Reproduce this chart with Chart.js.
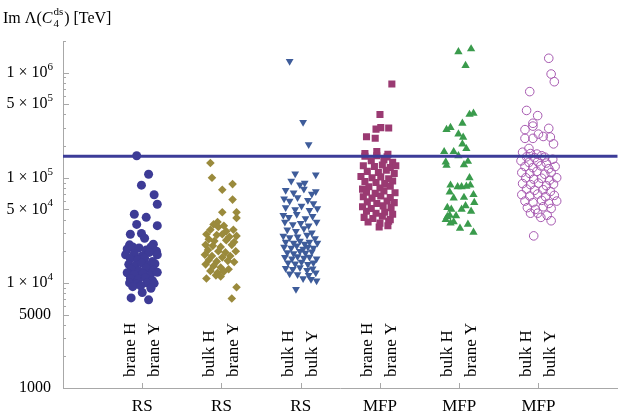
<!DOCTYPE html>
<html><head><meta charset="utf-8">
<script src="https://cdn.jsdelivr.net/npm/chart.js@4"></script>
<style>html,body{margin:0;padding:0;background:#fff}canvas{display:block}</style>
</head><body>
<canvas id="c" width="623" height="415"></canvas>
<script>
// model names under each column, and the two rotated labels per column
const modelNames = ['RS','RS','RS','MFP','MFP','MFP'];
const higgsLabels = ['brane H','bulk H','bulk H','brane H','bulk H','bulk H'];
const yukawaLabels = ['brane Y','brane Y','bulk Y','brane Y','brane Y','bulk Y'];
const yLabelTicks = [1000, 5000, 1e4, 5e4, 1e5, 5e5, 1e6];
const epsBound = 1.6e5;

// RS brane H / brane Y
const rsBraneX = [0.93,1.08,0.99,1.15,1.19,0.9,1.05,0.93,1.19,0.85,0.99,1.03,0.84,1.14,
  0.81,0.88,0.96,1.05,1.11,1.18, 0.79,0.9,1.0,1.09,1.19, 0.85,0.94,1.03,1.13, 0.83,0.91,0.99,1.08,1.16,
  0.86,0.96,1.05,1.14, 0.81,0.9,1.01,1.1,1.19, 0.85,0.95,1.04,1.13, 0.84,0.93,1.06,1.15, 0.88,0.98,1.11,1.0, 0.86,1.08];
const rsBraneV = [1.62e5,1.08e5,8.5e4,6.9e4,5.6e4,4.5e4,4.2e4,3.6e4,3.5e4,2.9e4,2.95e4,2.66e4,2.3e4,2.33e4,
  2.1e4,2.2e4,2.15e4,2.05e4,2.2e4,2.0e4, 1.85e4,1.9e4,1.8e4,1.95e4,1.85e4, 1.7e4,1.65e4,1.72e4,1.6e4, 1.5e4,1.45e4,1.55e4,1.48e4,1.52e4,
  1.35e4,1.3e4,1.38e4,1.32e4, 1.25e4,1.2e4,1.22e4,1.18e4,1.26e4, 1.1e4,1.08e4,1.12e4,1.05e4, 1.0e4,9.8e3,1.0e4,9.9e3, 9.2e3,9.4e3,8.9e3,8.1e3, 7.2e3,6.9e3];

// RS bulk H / brane Y
const rsBulkBraneX = [1.86,1.88,2.14,2.01,2.14,2.01,2.19,2.19,1.95,
  1.9,1.96,2.03,1.86,2.06,2.15, 1.81,1.94,2.01,2.1,2.19, 1.84,1.91,2.06,2.16, 1.8,1.89,1.99,2.13,
  1.83,1.96,2.05,2.18, 1.79,1.88,2.01,2.11, 1.84,1.94,2.08,2.16, 1.8,1.9,1.99,2.09, 1.86,1.95,2.03, 1.93,1.99,1.81, 2.19,2.13];
const rsBulkBraneV = [1.38e5,1.0e5,8.7e4,7.7e4,6.2e4,4.7e4,4.7e4,4.15e4,3.8e4,
  3.6e4,3.4e4,3.5e4,3.2e4,3.1e4,3.2e4, 2.9e4,2.85e4,2.9e4,2.75e4,2.8e4, 2.6e4,2.5e4,2.55e4,2.45e4, 2.3e4,2.25e4,2.2e4,2.3e4,
  2.05e4,2.0e4,1.95e4,2.0e4, 1.85e4,1.8e4,1.75e4,1.8e4, 1.65e4,1.6e4,1.62e4,1.58e4, 1.5e4,1.45e4,1.4e4,1.35e4, 1.3e4,1.25e4,1.28e4, 1.18e4,1.15e4,1.1e4, 9.1e3,7.1e3];

// RS bulk H / bulk Y
const rsBulkX = [2.86,3.03,3.1,2.93,3.19,
  2.88,2.99,3.05,2.81,2.91,3.04,3.14,3.19, 2.79,2.86,2.96,3.09,3.16, 2.81,2.93,3.01,3.11,3.21, 2.78,2.85,2.95,3.06,3.15,
  2.8,2.9,3.0,3.1,3.2, 2.83,2.94,3.04,3.14, 2.78,2.86,2.96,3.08,3.18, 2.81,2.91,2.99,3.05,3.11,3.21, 2.79,2.88,2.95,3.03,3.09,3.16,
  2.83,2.91,2.99,3.06,3.14, 2.8,2.89,2.96,3.04,3.11,3.2, 2.84,2.93,3.01,3.09,3.16, 2.81,2.9,2.99,3.08,3.15, 2.86,2.96,3.1,3.19, 3.03,3.13,3.2,2.94];
const rsBulkV = [1.28e6,3.37e5,2.07e5,1.09e5,1.07e5,
  9.3e4,8.6e4,8.9e4,7.6e4,7.2e4,7.8e4,7.0e4,7.4e4, 6.3e4,6.0e4,6.5e4,6.1e4,5.7e4, 5.2e4,5.0e4,5.4e4,4.9e4,5.1e4, 4.4e4,4.2e4,4.5e4,4.1e4,4.3e4,
  3.8e4,3.6e4,3.7e4,3.5e4,3.8e4, 3.2e4,3.1e4,3.3e4,3.0e4, 2.8e4,2.7e4,2.75e4,2.85e4,2.65e4, 2.45e4,2.4e4,2.5e4,2.35e4,2.45e4,2.4e4, 2.2e4,2.15e4,2.25e4,2.1e4,2.2e4,2.15e4,
  1.95e4,1.9e4,2.0e4,1.92e4,1.98e4, 1.75e4,1.7e4,1.78e4,1.72e4,1.76e4,1.7e4, 1.55e4,1.52e4,1.58e4,1.5e4,1.55e4, 1.38e4,1.35e4,1.4e4,1.32e4,1.36e4, 1.22e4,1.2e4,1.18e4,1.25e4, 1.1e4,1.08e4,1.05e4,8.7e3];

// MFP brane H / brane Y
const mfpBraneX = [4.15,4.0,3.95,4.01,4.11,3.83,3.94,3.81,3.96,4.1,
  3.81,3.96,4.09,3.89,4.05,4.16, 3.79,3.93,4.03,4.13,4.2, 3.84,3.98,4.08,4.18, 3.76,3.9,4.01,4.11, 3.81,3.95,4.06,4.16,
  3.86,4.0,4.13,3.78, 3.83,3.94,4.05,4.19, 3.79,3.9,4.01,4.13, 3.84,3.96,4.09,4.18, 3.78,3.89,4.04,4.14, 3.83,3.95,4.06,4.16,
  3.8,3.91,4.03,4.13, 3.85,4.0,4.11, 3.99,4.1];
const mfpBraneV = [7.8e5,4.0e5,2.9e5,3.0e5,2.97e5,2.46e5,2.38e5,1.7e5,1.78e5,1.67e5,
  1.6e5,1.62e5,1.58e5,1.45e5,1.48e5,1.4e5, 1.3e5,1.28e5,1.32e5,1.25e5,1.3e5, 1.15e5,1.12e5,1.18e5,1.1e5, 1.03e5,1.0e5,1.02e5,9.8e4, 9.2e4,9.0e4,8.8e4,9.3e4,
  8.2e4,8.0e4,8.3e4,7.8e4, 7.3e4,7.1e4,7.5e4,7.2e4, 6.6e4,6.4e4,6.7e4,6.5e4, 5.9e4,5.7e4,6.0e4,5.8e4, 5.3e4,5.1e4,5.4e4,5.2e4, 4.8e4,4.6e4,4.7e4,4.5e4,
  4.2e4,4.1e4,4.3e4,4.0e4, 3.8e4,3.7e4,3.85e4, 3.4e4,3.5e4];

// MFP bulk H / brane Y
const mfpBulkBraneX = [4.99,5.15,5.08,5.13,5.18,4.84,4.89,5.04,4.99,5.05,5.04,5.09,4.81,4.93,4.99,4.83,4.84,5.06,5.11,
  5.13,4.89,4.98,5.03,5.09,5.14,4.88,4.93,5.18,5.06,5.19,5.08,4.85,5.03,4.9,4.88,4.85,4.96,4.89,5.01,5.11,5.18,4.93,4.83,5.15];
const mfpBulkBraneV = [1.58e6,1.68e6,1.17e6,4.0e5,4.1e5,2.87e5,3.0e5,3.3e5,2.6e5,2.42e5,2.09e5,1.89e5,1.77e5,1.77e5,1.62e5,1.41e5,1.31e5,1.33e5,1.43e5,
  1.0e5,8.5e4,8.2e4,8.2e4,8.3e4,8.5e4,7.3e4,6.4e4,6.9e4,6.5e4,5.8e4,5.4e4,5.2e4,5.0e4,5.0e4,4.4e4,4.27e4,4.35e4,3.7e4,3.3e4,3.6e4,3.03e4,3.8e4,4.0e4,4.8e4];

// MFP bulk H / bulk Y
const mfpBulkX = [6.13,6.16,6.2,5.89,5.85,5.99,5.93,5.93,6.13,5.83,6.0,6.06,6.15,5.83,5.93,6.19,5.88,
  5.8,5.9,5.98,6.04,5.85,5.95,6.08, 5.78,5.88,5.99,6.1,6.18, 5.83,5.93,6.03,6.13,6.21, 5.79,5.89,5.98,6.08,6.16,
  5.84,5.94,6.04,6.14,6.23, 5.8,5.9,6.0,6.1,6.19, 5.85,5.95,6.06,6.15, 5.79,5.89,5.99,6.09,6.2, 5.83,5.93,6.04,6.13,6.23,
  5.86,5.96,6.06,6.16, 5.9,5.99,6.16,6.03,6.11,5.94];
const mfpBulkV = [1.37e6,9.7e5,8.2e5,6.6e5,4.37e5,3.9e5,3.3e5,3.1e5,2.95e5,2.87e5,2.6e5,2.47e5,2.44e5,2.37e5,2.37e5,2.1e5,1.9e5,
  1.75e5,1.7e5,1.68e5,1.62e5,1.58e5,1.55e5,1.57e5, 1.45e5,1.4e5,1.42e5,1.38e5,1.5e5, 1.28e5,1.25e5,1.3e5,1.22e5,1.28e5, 1.12e5,1.1e5,1.15e5,1.08e5,1.12e5,
  1.0e5,9.7e4,9.9e4,9.5e4,1.0e5, 8.8e4,8.6e4,8.9e4,8.4e4,8.7e4, 7.8e4,7.6e4,7.7e4,7.4e4, 6.9e4,6.7e4,7.0e4,6.6e4,6.8e4, 6.0e4,5.8e4,6.1e4,5.7e4,6.0e4,
  5.2e4,5.0e4,5.3e4,5.1e4, 4.6e4,4.6e4,3.9e4,4.2e4,4.4e4,2.8e4];

const pts = (xs, vs) => xs.map((x,i)=>({x, y:vs[i]}));
const AXIS = '#a8a8a8';
const SERIF = '"Liberation Serif","DejaVu Serif",serif';

const axisDecor = {
  id:'axisDecor',
  afterDraw(chart){
    const {ctx, chartArea:a, scales:{x,y}} = chart;
    ctx.save();
    ctx.strokeStyle = AXIS; ctx.lineWidth = 1;
    // inward y ticks
    for (let d=1000; d<=1e6; d*=10){
      for (let m=1; m<=9; m++){
        const v=m*d; if (v>y.max) break;
        const py=Math.round(y.getPixelForValue(v))+0.5, len=(m===1||m===5)?6:3;
        ctx.beginPath(); ctx.moveTo(a.left, py); ctx.lineTo(a.left+len, py); ctx.stroke();
      }
    }
    // inward x ticks
    modelNames.forEach((_,i)=>{
      const px=Math.round(x.getPixelForValue(i+1))+0.5;
      ctx.beginPath(); ctx.moveTo(px, a.bottom); ctx.lineTo(px, a.bottom-5); ctx.stroke();
    });
    ctx.fillStyle='#000';
    // y labels with powers of ten
    ctx.textBaseline='middle';
    yLabelTicks.forEach(v=>{
      const py=y.getPixelForValue(v), right=53;
      if (v<1e4){
        ctx.font='16px '+SERIF; ctx.textAlign='right';
        ctx.fillText(String(v), right-2, py);
      } else {
        const e=Math.floor(Math.log10(v)+1e-9), m=Math.round(v/Math.pow(10,e));
        ctx.font='11px '+SERIF; ctx.textAlign='right';
        const ew=ctx.measureText(String(e)).width;
        ctx.fillText(String(e), right, py-6);
        ctx.font='16px '+SERIF;
        ctx.fillText(m+' \u00d7 10', right-ew, py);
      }
    });
    // rotated labels inside the plot
    ctx.font='17px '+SERIF; ctx.textAlign='left'; ctx.textBaseline='middle';
    modelNames.forEach((_,i)=>{
      const px=x.getPixelForValue(i+1);
      [[higgsLabels[i],-12],[yukawaLabels[i],12]].forEach(([t,dx])=>{
        ctx.save(); ctx.translate(px+dx, 377); ctx.rotate(-Math.PI/2);
        ctx.fillText(t, 0, 0); ctx.restore();
      });
    });
    // axis title
    let tx=3; const by=23;
    ctx.textAlign='left'; ctx.textBaseline='alphabetic';
    const put=(t,font,dy)=>{ ctx.font=font; ctx.fillText(t, tx, by+dy); return ctx.measureText(t).width; };
    tx+=put('Im \u039b(', '16px '+SERIF, 0);
    tx+=put('C', 'italic 16px '+SERIF, 0)+1;
    const sw=put('ds', '11px '+SERIF, -8);
    put('4', '11px '+SERIF, 4);
    tx+=sw+1;
    put(') [TeV]', '16px '+SERIF, 0);
    ctx.restore();
  }
};

const sc = (data, style) => Object.assign({type:'scatter', data, showLine:false, pointBorderWidth:0}, style);

new Chart(document.getElementById('c').getContext('2d'), {
  data:{ datasets:[
    { type:'line', data:[{x:0,y:epsBound},{x:7,y:epsBound}], borderColor:'#3c3c98', borderWidth:3, pointRadius:0 },
    sc(pts(rsBraneX, rsBraneV), { pointStyle:'circle', pointRadius:4.5, backgroundColor:'#3d3b96', borderColor:'#3d3b96' }),
    sc(pts(rsBulkBraneX, rsBulkBraneV), { pointStyle:'rectRot', pointRadius:4.3, backgroundColor:'#9a8a3c', borderColor:'#9a8a3c' }),
    sc(pts(rsBulkX, rsBulkV), { pointStyle:'triangle', rotation:180, pointRadius:4.5, backgroundColor:'#3e5c9a', borderColor:'#3e5c9a' }),
    sc(pts(mfpBraneX, mfpBraneV), { pointStyle:'rect', pointRadius:5, backgroundColor:'#9a3a72', borderColor:'#9a3a72' }),
    sc(pts(mfpBulkBraneX, mfpBulkBraneV), { pointStyle:'triangle', pointRadius:4.8, backgroundColor:'#3a9b4c', borderColor:'#3a9b4c' }),
    sc(pts(mfpBulkX, mfpBulkV), { pointStyle:'circle', pointRadius:4.3, backgroundColor:'rgba(0,0,0,0)', borderColor:'#a659b0', pointBorderWidth:1 })
  ]},
  options:{
    responsive:false, animation:false, devicePixelRatio:1,
    layout:{ padding:{ top:41, right:1, left:0, bottom:0 } },
    plugins:{ legend:{display:false}, tooltip:{enabled:false} },
    scales:{
      x:{ type:'linear', min:0, max:7,
        grid:{ display:true, drawOnChartArea:false, drawTicks:false },
        border:{ color:AXIS },
        afterBuildTicks:(s)=>{ s.ticks = modelNames.map((_,i)=>({value:i+1})); },
        ticks:{ callback:(v,i)=>modelNames[i], color:'#000', padding:8, maxRotation:0, autoSkip:false,
          font:{ family:SERIF, size:17 } },
        afterFit:(s)=>{ s.height = 27; } },
      y:{ type:'logarithmic', min:1000, max:2e6,
        grid:{ display:true, drawOnChartArea:false, drawTicks:false },
        border:{ color:AXIS },
        ticks:{ display:false },
        afterFit:(s)=>{ s.width = 63; } }
    }
  },
  plugins:[axisDecor]
});
</script>
</body></html>
